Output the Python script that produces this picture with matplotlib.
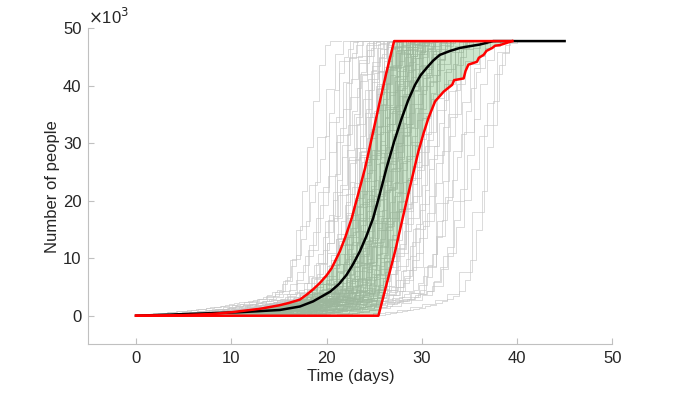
import numpy as np
import matplotlib
matplotlib.use("Agg")
import matplotlib.pyplot as plt

plt.rcParams["font.family"] = ["Liberation Sans", "DejaVu Sans"]

# median and bound curves (time in days, people in thousands)
med_t = [0, 10.7, 13.0, 15.1, 17.2, 18.6, 20.4, 21.3, 22.1, 22.8, 23.5, 24.2, 24.9,
         25.6, 26.3, 27.1, 27.9, 28.6, 29.3, 29.9, 30.5, 31.2, 31.9, 33.0, 34.0,
         35.0, 36.1, 37.5, 45.0]
med_y = [0, 0.6, 0.8, 1.0, 1.6, 2.5, 4.2, 5.5, 7.1, 9.0, 11.2, 13.9, 17.0,
         21.2, 25.7, 30.3, 34.4, 37.6, 40.2, 41.9, 43.1, 44.4, 45.4, 46.1, 46.6,
         46.9, 47.2, 47.8, 47.8]

up_t = [0, 5, 8, 10, 11, 12, 13, 14, 15, 16, 17.2, 17.9, 18.6, 19.3, 20.0, 20.55,
        21.4, 22.0, 22.65, 23.3, 24.05, 24.8, 25.6, 26.3, 27.1, 39.5]
up_y = [0, 0.1, 0.3, 0.6, 0.8, 1.0, 1.2, 1.5, 1.8, 2.2, 2.8, 3.65, 4.6, 5.7, 7.0, 8.3,
        11.2, 13.8, 17.0, 21.0, 25.7, 31.3, 37.3, 42.4, 47.8, 47.8]

lo_t = [0, 25.45, 27.2, 28.4, 29.65, 30.2, 30.7, 31.4, 32.3, 33.2, 33.4, 34.4, 34.6,
        34.9, 35.8, 36.0, 36.5, 36.8, 37.4, 37.7, 38.2, 39.5]
lo_y = [0, 0, 11.2, 19.9, 28.6, 31.8, 34.4, 37.3, 39.0, 40.2, 41.0, 41.3, 42.6,
        43.7, 44.2, 44.9, 45.4, 46.1, 46.6, 47.0, 47.1, 47.8]

# single-run shape, relative to the day it reaches half size
run_t = [-20, -16, -12, -9, -6, -4, -3, -2, -1, 0, 1, 2, 3, 4]
run_y = [0, 0.5, 1.2, 2.0, 3.0, 4.5, 7.0, 11.0, 17.0, 24.0, 32.0, 40.0, 45.5, 47.8]

# half-size day of each run (read from the grey bundle)
run_half = [17.6, 18.3, 18.9, 19.4, 19.8, 20.1, 20.5, 20.8,
            21.0, 21.2, 21.5, 21.6, 21.9, 22.0, 22.3, 22.4, 22.6, 22.8, 22.9,
            23.0, 23.1, 23.25, 23.4, 23.5, 23.6, 23.7, 23.85, 23.9, 24.0, 24.1, 24.2,
            24.3, 24.35, 24.5, 24.6, 24.7, 24.75, 24.85, 24.9,
            25.0, 25.1, 25.15, 25.3, 25.35, 25.45, 25.5, 25.6, 25.7, 25.8, 25.85, 25.95,
            26.0, 26.1, 26.2, 26.3, 26.35, 26.45, 26.5, 26.6, 26.7, 26.8, 26.85, 26.95,
            27.0, 27.1, 27.25, 27.3, 27.45, 27.6, 27.7, 27.8, 27.95, 28.1, 28.2, 28.35,
            28.5, 28.6, 28.8, 28.9,
            29.1, 29.3, 29.4, 29.6, 29.9, 30.1, 30.4, 30.6, 30.9,
            31.2, 31.5, 31.9, 32.3, 32.8, 33.2, 33.7,
            34.3, 35.0, 35.8, 36.5]
run_rise = [0.6, 0.85, 1.0, 0.7, 0.9, 1.1, 0.65]
run_step = [0.6, 0.9, 0.5, 1.1, 0.7, 0.8, 1.3]

fig = plt.figure(figsize=(6.75, 3.95), dpi=100)
ax = fig.add_axes([0.131, 0.128, 0.776, 0.800])

for i, th in enumerate(run_half):
    r = run_rise[i % len(run_rise)]
    st = run_step[i % len(run_step)]
    t_end = min(th + run_t[-1] * r + 1.5, 40)
    t = np.arange(0, t_end, st) + (i % 4) * 0.15
    t = np.concatenate(([0], t[t < t_end], [t_end]))
    y = np.interp((t - th) / r, run_t, run_y)
    ax.plot(t, y, drawstyle="steps-post", color="#c4c4c4", lw=0.7, alpha=0.6, zorder=1)

poly_t = list(up_t) + list(lo_t[::-1])
poly_y = list(up_y) + list(lo_y[::-1])
ax.fill(poly_t, poly_y, color="#008000", alpha=0.2, lw=0, zorder=2)

ax.plot(med_t, med_y, color="black", lw=1.8, zorder=3)
ax.plot(up_t, up_y, color="red", lw=1.8, zorder=4)
ax.plot(lo_t, lo_y, color="red", lw=1.8, zorder=4)

ax.set_xlim(-5, 50)
ax.set_ylim(-5, 50)
ax.set_xticks([0, 10, 20, 30, 40, 50])
ax.set_yticks([0, 10, 20, 30, 40, 50])
for s in ["top", "right"]:
    ax.spines[s].set_visible(False)
for s in ["left", "bottom"]:
    ax.spines[s].set_color("#c0c0c0")
    ax.spines[s].set_linewidth(0.8)
ax.tick_params(direction="in", length=4, color="#c0c0c0", labelcolor="#262626",
               labelsize=12, pad=5)
ax.set_xlabel("Time (days)", fontsize=12, color="#262626", labelpad=2)
ax.set_ylabel("Number of people", fontsize=12, color="#262626", labelpad=2)
ax.text(0.0, 1.005, r"$\times$10$^3$", transform=ax.transAxes, fontsize=12,
        color="#262626", ha="left", va="bottom")

fig.savefig("out.png", dpi=100)
